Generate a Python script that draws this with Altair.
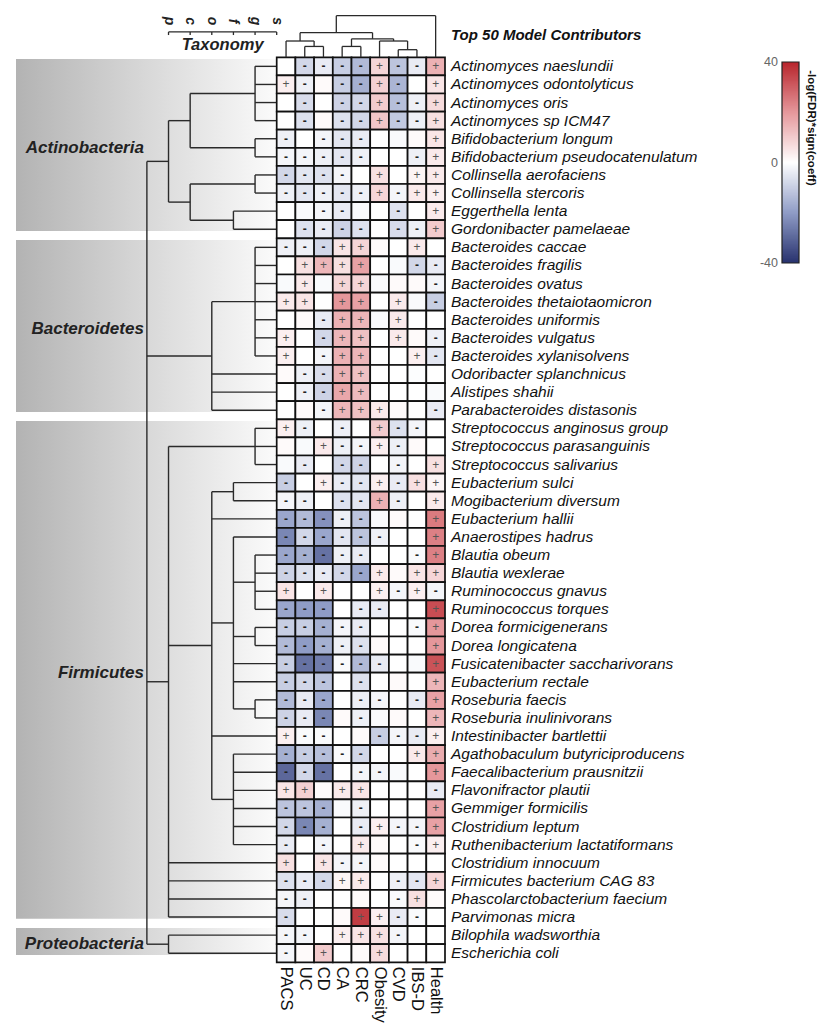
import altair as alt
import pandas as pd

# ---------------- data ----------------
conditions = ["PACS", "UC", "CD", "CA", "CRC", "Obesity", "CVD", "IBS-D", "Health"]

species = [
    "Actinomyces naeslundii", "Actinomyces odontolyticus", "Actinomyces oris", "Actinomyces sp ICM47",
    "Bifidobacterium longum", "Bifidobacterium pseudocatenulatum", "Collinsella aerofaciens",
    "Collinsella stercoris", "Eggerthella lenta", "Gordonibacter pamelaeae",
    "Bacteroides caccae", "Bacteroides fragilis", "Bacteroides ovatus", "Bacteroides thetaiotaomicron",
    "Bacteroides uniformis", "Bacteroides vulgatus", "Bacteroides xylanisolvens", "Odoribacter splanchnicus",
    "Alistipes shahii", "Parabacteroides distasonis",
    "Streptococcus anginosus group", "Streptococcus parasanguinis", "Streptococcus salivarius",
    "Eubacterium sulci", "Mogibacterium diversum", "Eubacterium hallii", "Anaerostipes hadrus",
    "Blautia obeum", "Blautia wexlerae", "Ruminococcus gnavus", "Ruminococcus torques",
    "Dorea formicigenerans", "Dorea longicatena", "Fusicatenibacter saccharivorans", "Eubacterium rectale",
    "Roseburia faecis", "Roseburia inulinivorans", "Intestinibacter bartlettii",
    "Agathobaculum butyriciproducens", "Faecalibacterium prausnitzii", "Flavonifractor plautii",
    "Gemmiger formicilis", "Clostridium leptum", "Ruthenibacterium lactatiformans", "Clostridium innocuum",
    "Firmicutes bacterium CAG 83", "Phascolarctobacterium faecium", "Parvimonas micra",
    "Bilophila wadsworthia", "Escherichia coli",
]

A = "Actinobacteria"
B = "Bacteroidetes|Bacteroidia|Bacteroidales"
C = "Firmicutes|Clostridia|Eubacteriales"
lineages = (
    [A + "|Actinobacteria|Actinomycetales|Actinomycetaceae|Actinomyces"] * 4
    + [A + "|Actinobacteria|Bifidobacteriales|Bifidobacteriaceae|Bifidobacterium"] * 2
    + [A + "|Coriobacteriia|Coriobacteriales|Coriobacteriaceae|Collinsella"] * 2
    + [A + "|Coriobacteriia|Eggerthellales|Eggerthellaceae|Eggerthella",
       A + "|Coriobacteriia|Eggerthellales|Eggerthellaceae|Gordonibacter"]
    + [B + "|Bacteroidaceae|Bacteroides"] * 7
    + [B + "|Marinifilaceae|Odoribacter", B + "|Rikenellaceae|Alistipes", B + "|Tannerellaceae|Parabacteroides"]
    + ["Firmicutes|Bacilli|Lactobacillales|Streptococcaceae|Streptococcus"] * 3
    + [C + "|Anaerovoracaceae|Eubacterium", C + "|Anaerovoracaceae|Mogibacterium",
       C + "|Eubacteriaceae|Anaerobutyricum", C + "|Lachnospiraceae|Anaerostipes"]
    + [C + "|Lachnospiraceae|Blautia"] * 4
    + [C + "|Lachnospiraceae|Dorea"] * 2
    + [C + "|Lachnospiraceae|Fusicatenibacter", C + "|Lachnospiraceae|Agathobacter"]
    + [C + "|Lachnospiraceae|Roseburia"] * 2
    + [C + "|Peptostreptococcaceae|Intestinibacter"]
    + [C + "|Oscillospiraceae|" + g for g in
       ["Agathobaculum", "Faecalibacterium", "Flavonifractor", "Gemmiger", "Ruminococcus", "Ruthenibacterium"]]
    + ["Firmicutes|Erysipelotrichia|Erysipelotrichales|Erysipelotrichaceae|Thomasclavelia",
       "Firmicutes|Firmicutes unclassified|unclassified|unclassified|unclassified",
       "Firmicutes|Negativicutes|Acidaminococcales|Acidaminococcaceae|Phascolarctobacterium",
       "Firmicutes|Tissierellia|Tissierellales|Peptoniphilaceae|Parvimonas",
       "Proteobacteria|Deltaproteobacteria|Desulfovibrionales|Desulfovibrionaceae|Bilophila",
       "Proteobacteria|Gammaproteobacteria|Enterobacterales|Enterobacteriaceae|Escherichia"]
)

# -log(FDR)*sign(coeff), columns in the order of `conditions`
scores = [
    [0, -8, -4, -10, -14, 8, -12, -4, 15],
    [3, -3, 1, -10, -16, 9, -15, 0, 5],
    [0, -7, 0, -9, -8, 10, -13, -3, 7],
    [0, -6, 1, -6, -8, 11, -11, -3, 6],
    [-3, 0, -2, -5, -4, 0, -1, 1, 5],
    [-2, -2, -3, -5, -3, 0, 0, -3, 4],
    [-8, -5, -6, -2, 0, 6, 0, 2, 4],
    [-3, -5, -3, -5, -3, 8, -2, 4, 3],
    [0, -1, -2, -4, -1, 0, -6, 0, 4],
    [0, -6, -4, -9, -6, 0, -7, -3, 10],
    [-3, -3, -8, 5, 8, 1, 0, 4, 0],
    [0, 6, 14, 6, 18, 0, -1, -8, -4],
    [-1, 4, -1, 8, 8, -1, 1, 1, -2],
    [4, 5, 0, 20, 18, 0, 4, -1, -10],
    [0, 1, -4, 15, 14, -1, 4, 0, 0],
    [3, 0, -8, 14, 12, 0, 4, 1, -3],
    [3, 0, -2, 15, 14, 0, 0, 3, -5],
    [1, -3, -7, 15, 12, 0, 0, -0.5, 0],
    [0, -3, -9, 17, 13, 0, 0, 0, -1],
    [0, 1, -2, 14, 12, 4, 1, 0, -4],
    [3, -3, 0, -3, 0, 10, -6, -2, 0],
    [1, -1, 4, -3, -2, 3, -3, 1, 0],
    [-1, -4, 0, -8, -9, 0, -2, 0, 6],
    [-10, 0, 3, -4, -5, 3, -4, 6, 2],
    [-2, -3, 0, -6, -5, 15, -3, 0, 4],
    [-18, -14, -22, -3, -12, -1, 1, 0, 25],
    [-24, -8, -18, -5, -12, -3, 0, 0, 24],
    [-18, -16, -28, -3, -4, 0, 0, -1, 24],
    [-9, -6, -4, -8, -18, 4, 1, 5, 8],
    [5, 0, 4, 0, 0, 3, -2, 3, -2],
    [-18, -20, -20, 0, -4, -4, 0, 0, 33],
    [-10, -10, -16, -2, -4, 0, 0, -1, 20],
    [-14, -20, -16, -3, -6, 1, 0, 0, 20],
    [-10, -28, -26, -1, -14, -4, 0, -1, 32],
    [-10, -8, -12, 0, -6, 0, 1, 0, 14],
    [-14, -4, -18, 0, -3, -2, 0, -4, 18],
    [-9, -4, -24, 1, -3, -1, 1, 0, 14],
    [3, -1, -1, 0, 1, -10, -2, -4, 3],
    [-16, -10, -13, -1, -8, 0, 0, 4, 16],
    [-30, -8, -28, 0, -2, -2, -1, 0, 20],
    [5, 9, 1, 4, 5, 0, 0, 0, -4],
    [-12, -12, -16, -1, -3, 0, 0, 0, 18],
    [-8, -24, -16, 0, -4, 3, -2, -2, 18],
    [-4, 0, -2, 0, 4, 1, 0, -1, 3],
    [6, 0, 5, -2, -2, 1, 0, 0, 0],
    [-6, -4, -8, 2, 4, 0, -3, -5, 8],
    [-2, -3, 0, 0, 1, 0, -1, 6, 1],
    [-7, 0, 0, 1, 36, 3, -4, -1, 0],
    [-2, -2, 0, 3, 5, 6, -2, 0, 0],
    [-2, 1, 10, 0, 1, 7, 0, 0, 0],
]

# significance marks shown in the cells ("." = none)
signs = [
    ".----+--+", "+-.--+-.+", ".-.--+--+", ".-.--+--+", "-.---...+",
    "-----..-+", "----.+.++", "-----+-++", "..--..-.+", ".----.--+",
    "---++..+.", ".++++..--", ".+.++...-", "++.++.+.-", "..-++.+..",
    "+.-++.+.-", "+.-++..+-", ".--++....", ".--++....", "..-+++..-",
    "+-.-.+--.", "..+--+-..", ".-.--.-.+", "-.+--+-++", "--.--+-.+",
    "-----...+", "------..+", "-----..-+", "-----+.++", "+.+..+-+-",
    "---.--..+", "-----..-+", "-----...+", "------..+", "---.-...+",
    "---.--.-+", "---.-...+", "+--..---+", "-----..++", "---.--..+",
    "++.++...-", "---.-...+", "---.-+--+", "-.-.+..-+", "+.+--....",
    "---++.--+", "--....-+.", "-...++--.", "--.+++-..", "-.+..+...",
]

# column dendrogram: (left, right, merge height)
column_tree = (
    (("PACS", ("UC", "CD", 0.6), 0.9),
     (("CA", "CRC", 0.6), ("Obesity", ("CVD", "IBS-D", 0.42), 0.9), 1.02), 1.36),
    "Health", 2.3)

tax_levels = ["p", "c", "o", "f", "g", "s"]
legend_ticks = [40, 0, -40]
legend_title = "-log(FDR)*sign(coeff)"

# ---------------- layout constants ----------------
W, H = 812, 1016
PX_X, PX_Y = 18.7, 18.1
XMIN = -(276.7 - 8) / PX_X
XMAX = XMIN + W / PX_X
YMIN = -(57.3 - 8) / PX_Y
YMAX = YMIN + H / PX_Y
LEVEL_STEP = 1.157
BOX_LEFT = (16 - 276.7) / PX_X
FONT = "Liberation Sans"
LINE = "#2a2a2a"
LEG_X0, LEG_X1 = (782 - 276.7) / PX_X, (799 - 276.7) / PX_X
LEG_Y0, LEG_Y1 = (62 - 57.3) / PX_Y, (263 - 57.3) / PX_Y

def lx(level):
    return (level - 6) * LEVEL_STEP

def leg_y(v):
    return LEG_Y1 - (v + 40) / 80 * (LEG_Y1 - LEG_Y0)

XS = alt.Scale(domain=[XMIN, XMAX], nice=False, zero=False)
YS = alt.Scale(domain=[YMIN, YMAX], nice=False, zero=False, reverse=True)

def X(f):
    return alt.X(f, type="quantitative", scale=XS, axis=None)

def Y(f):
    return alt.Y(f, type="quantitative", scale=YS, axis=None)

# ---------------- heatmap table ----------------
recs = []
for i, sp in enumerate(species):
    for j, cond in enumerate(conditions):
        recs.append(dict(species=sp, condition=cond, score=float(scores[i][j]), sign=signs[i][j],
                         x=j, x2=j + 1, y=i, y2=i + 1, xc=j + 0.5, yc=i + 0.5))
cells = pd.DataFrame(recs)

# ---------------- taxonomy tree ----------------
tree = {}
for i, lin in enumerate(lineages):
    node = tree
    for part in lin.split("|"):
        node = node.setdefault(part, {})
    node[species[i]] = i

segs = []

def layout(node, depth):
    if isinstance(node, int):
        return 6, node + 0.5
    kids = [layout(ch, depth + 1) for ch in node.values()]
    if len(kids) == 1:
        return kids[0]
    ys = [k[1] for k in kids]
    segs.append(dict(x=lx(depth), x2=lx(depth), y=min(ys), y2=max(ys)))
    for lv, yy in kids:
        segs.append(dict(x=lx(depth), x2=lx(lv), y=yy, y2=yy))
    return depth, (min(ys) + max(ys)) / 2

layout(tree, 0)
tree_df = pd.DataFrame(segs)

phyla = []
for ph in tree:
    idx = [i for i, lin in enumerate(lineages) if lin.split("|")[0] == ph]
    top, bot = min(idx) + 0.1, max(idx) + 0.6
    phyla.append(dict(phylum=ph, x=BOX_LEFT, x2=0, y=top, y2=bot, xl=lx(0), yl=(top + bot) / 2 + 0.15))
phyla_df = pd.DataFrame(phyla)

# ---------------- column dendrogram ----------------
dsegs = []

def dlayout(node):
    if isinstance(node, str):
        return conditions.index(node) + 0.5, 0.0
    left, right, h = node
    xl_, hl = dlayout(left)
    xr_, hr = dlayout(right)
    dsegs.append(dict(x=xl_, x2=xr_, y=-h, y2=-h))
    dsegs.append(dict(x=xl_, x2=xl_, y=-h, y2=-hl))
    dsegs.append(dict(x=xr_, x2=xr_, y=-h, y2=-hr))
    return (xl_ + xr_) / 2, h

dlayout(column_tree)
dend_df = pd.DataFrame(dsegs)

# ---------------- taxonomy axis ----------------
AX_Y = -1.40
tax_df = pd.DataFrame(dict(lab=tax_levels, x=[lx(k + 1) for k in range(6)]))
tax_df["y"] = AX_Y
tax_df["y2"] = AX_Y + 0.17
tax_df["ylab"] = -2.0
axis_line = pd.DataFrame(dict(x=[lx(1)], x2=[lx(6)], y=[AX_Y], y2=[AX_Y]))

rows_df = pd.DataFrame(dict(species=species, x=9, y=[i + 0.5 for i in range(len(species))]))
cols_df = pd.DataFrame(dict(condition=conditions, x=[j + 0.5 for j in range(9)], y=len(species) + 0.25))
titles_df = pd.DataFrame(dict(t=["Top 50 Model Contributors"], x=[9], y=[-1.23]))
taxtitle_df = pd.DataFrame(dict(t=["Taxonomy"], x=[(lx(1) + lx(6)) / 2], y=[-0.68]))

# ---------------- colour bar (legend) ----------------
ramp = []
for k in range(160):
    lo = -40 + k * 0.5
    ramp.append(dict(score=lo + 0.25, x=LEG_X0, x2=LEG_X1,
                     y=leg_y(min(lo + 1.5, 40)), y2=leg_y(lo)))
ramp_df = pd.DataFrame(ramp)
leg_frame = pd.DataFrame(dict(x=[LEG_X0], x2=[LEG_X1], y=[LEG_Y0], y2=[LEG_Y1]))
leg_ticks = pd.DataFrame(dict(lab=[str(v) for v in legend_ticks], x=LEG_X0, y=[leg_y(v) for v in legend_ticks]))
leg_title = pd.DataFrame(dict(t=[legend_title], x=[LEG_X1], y=[LEG_Y0 + 0.45]))

# ---------------- layers ----------------
box_fill = alt.Gradient(
    gradient="linear",
    stops=[alt.GradientStop(color="#b3b3b3", offset=0),
           alt.GradientStop(color="#d8d8d8", offset=0.5),
           alt.GradientStop(color="#fbfbfb", offset=1)],
    x1=0, x2=1, y1=0, y2=0)

boxes = alt.Chart(phyla_df).mark_rect(color=box_fill).encode(
    x=X("x"), x2="x2", y=Y("y"), y2="y2")

tree_lines = alt.Chart(tree_df).mark_rule(color=LINE, strokeWidth=1.4).encode(
    x=X("x"), x2="x2", y=Y("y"), y2="y2")

phylum_labels = alt.Chart(phyla_df).mark_text(
    align="right", baseline="middle", dx=-3, font=FONT, fontSize=17,
    fontWeight="bold", fontStyle="italic", color="#222").encode(
    x=X("xl"), y=Y("yl"), text="phylum:N")

color_scale = alt.Scale(domain=[-40, -20, 0, 20, 40],
                        range=["#28326e", "#8f9cc6", "#ffffff", "#e5979b", "#b8252c"],
                        interpolate="rgb", clamp=True)
COLOR = alt.Color("score:Q", scale=color_scale, legend=None)

heat = alt.Chart(cells).mark_rect(stroke="#111", strokeWidth=1.7).encode(
    x=X("x"), x2="x2", y=Y("y"), y2="y2", color=COLOR)

plus = alt.Chart(cells).transform_filter(alt.datum.sign == "+").mark_text(
    font=FONT, fontSize=12, color="#555", baseline="middle").encode(
    x=X("xc"), y=Y("yc"), text="sign:N")

minus = alt.Chart(cells).transform_filter(alt.datum.sign == "-").mark_text(
    font=FONT, fontSize=12, fontWeight="bold", color="#222", baseline="middle").encode(
    x=X("xc"), y=Y("yc"), text="sign:N")

row_labels = alt.Chart(rows_df).mark_text(
    align="left", baseline="middle", dx=6, font=FONT, fontSize=15.5,
    fontStyle="italic", color="#111").encode(x=X("x"), y=Y("y"), text="species:N")

col_labels = alt.Chart(cols_df).mark_text(
    align="left", baseline="middle", angle=90, font=FONT, fontSize=16.5,
    color="#111").encode(x=X("x"), y=Y("y"), text="condition:N")

dend = alt.Chart(dend_df).mark_rule(color=LINE, strokeWidth=1.3).encode(
    x=X("x"), x2="x2", y=Y("y"), y2="y2")

tax_axis = alt.Chart(axis_line).mark_rule(color=LINE, strokeWidth=1.3).encode(
    x=X("x"), x2="x2", y=Y("y"), y2="y2")
tax_ticks = alt.Chart(tax_df).mark_rule(color=LINE, strokeWidth=1.3).encode(
    x=X("x"), y=Y("y"), y2="y2")
tax_labels = alt.Chart(tax_df).mark_text(
    angle=90, align="center", baseline="middle", font=FONT, fontSize=14,
    fontWeight="bold", fontStyle="italic", color="#222").encode(
    x=X("x"), y=Y("ylab"), text="lab:N")
tax_title = alt.Chart(taxtitle_df).mark_text(
    align="center", baseline="middle", font=FONT, fontSize=16.5,
    fontWeight="bold", fontStyle="italic", color="#222").encode(
    x=X("x"), y=Y("y"), text="t:N")
top_title = alt.Chart(titles_df).mark_text(
    align="left", baseline="middle", dx=6, font=FONT, fontSize=15,
    fontWeight="bold", fontStyle="italic", color="#111").encode(
    x=X("x"), y=Y("y"), text="t:N")

bar = alt.Chart(ramp_df).mark_rect(strokeWidth=0).encode(
    x=X("x"), x2="x2", y=Y("y"), y2="y2", color=COLOR,
    order=alt.Order("score:Q"))
bar_frame = alt.Chart(leg_frame).mark_rect(fillOpacity=0, stroke="#222", strokeWidth=1.2).encode(
    x=X("x"), x2="x2", y=Y("y"), y2="y2")
bar_labels = alt.Chart(leg_ticks).mark_text(
    align="right", baseline="middle", dx=-4, font=FONT, fontSize=12.5, color="#666").encode(
    x=X("x"), y=Y("y"), text="lab:N")
bar_title = alt.Chart(leg_title).mark_text(
    align="left", baseline="middle", angle=90, dy=-12, font=FONT, fontSize=11.5,
    fontWeight="bold", color="#111").encode(
    x=X("x"), y=Y("y"), text="t:N")

chart = alt.layer(
    boxes, tree_lines, phylum_labels, heat, plus, minus, row_labels, col_labels,
    dend, tax_axis, tax_ticks, tax_labels, tax_title, top_title,
    bar, bar_frame, bar_labels, bar_title,
).properties(
    width=W, height=H, padding=0,
    autosize=alt.AutoSizeParams(type="none"),
).configure_view(stroke=None)

chart.save("out.html", embed_options={"renderer": "svg", "actions": False})
